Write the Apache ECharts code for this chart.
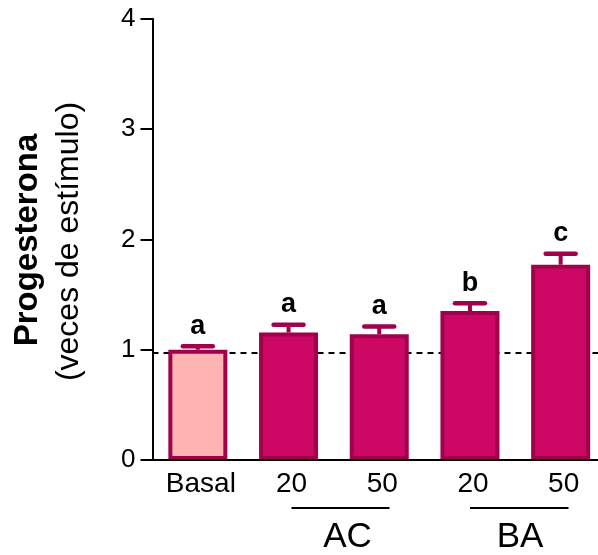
<!DOCTYPE html>
<html>
<head>
<meta charset="utf-8">
<script src="https://cdn.jsdelivr.net/npm/echarts@6/dist/echarts.min.js"></script>
<style>
  html, body { margin: 0; padding: 0; background: #ffffff; }
  #chart { width: 598px; height: 555px; }
</style>
</head>
<body>
<div id="chart"></div>
<script>
// Progesterone output, fold over basal
const categories = ['Basal', '20', '50', '20', '50'];
const means = [1.00, 1.155, 1.14, 1.35, 1.77];
const sem = [0.03, 0.07, 0.07, 0.07, 0.10];
const letters = ['a', 'a', 'a', 'b', 'c'];
const yMin = 0;
const yMax = 4;
const yStep = 1;
const referenceLevel = 0.975;
const groupNames = ['AC', 'BA'];

const FONT = "'Liberation Sans', Arial, Helvetica, sans-serif";
const FILL = '#cd0864';
const FILL_BASAL = '#ffb3b3';
const EDGE = '#a0004c';

const chart = echarts.init(document.getElementById('chart'), null, { renderer: 'canvas' });

const barData = means.map((v, i) => ({
  value: v,
  itemStyle: { color: i === 0 ? FILL_BASAL : FILL }
}));

const errData = means.map((v, i) => [i, v, v + sem[i]]);

chart.setOption({
  animation: false,
  backgroundColor: '#ffffff',
  grid: {
    left: 152.5,
    top: 18.7,
    width: 453.5,
    height: 441.3,
    containLabel: false,
    outerBoundsMode: 'none'
  },
  xAxis: {
    type: 'category',
    data: categories,
    z: 3,
    axisLine: { lineStyle: { color: '#000', width: 2 } },
    axisTick: { show: false },
    axisLabel: {
      interval: 0,
      margin: 10,
      color: '#000',
      fontFamily: FONT,
      fontSize: 28,
      padding: [0, 0, 0, 6]
    },
    splitLine: { show: false }
  },
  yAxis: {
    type: 'value',
    min: yMin,
    max: yMax,
    interval: yStep,
    axisLine: { show: true, lineStyle: { color: '#000', width: 2 } },
    axisTick: { show: true, length: 12, lineStyle: { color: '#000', width: 2 } },
    axisLabel: {
      margin: 17,
      color: '#000',
      fontFamily: FONT,
      fontSize: 26
    },
    splitLine: { show: false }
  },
  series: [
    {
      type: 'bar',
      data: barData,
      barWidth: 59,
      z: 2,
      itemStyle: { borderColor: EDGE, borderWidth: 4 },
      markLine: {
        silent: true,
        z: 1,
        symbol: ['none', 'none'],
        label: { show: false },
        lineStyle: { color: '#000', width: 2, type: [6, 5] },
        data: [{ yAxis: referenceLevel }]
      }
    },
    {
      type: 'custom',
      z: 4,
      data: errData,
      renderItem(params, api) {
        const i = params.dataIndex;
        const x = api.coord([api.value(0), 0])[0];
        const yTop = api.coord([api.value(0), api.value(1)])[1];
        const yHi = api.coord([api.value(0), api.value(2)])[1];
        return {
          type: 'group',
          children: [
            {
              type: 'line',
              shape: { x1: x, y1: yTop, x2: x, y2: yHi },
              style: { stroke: EDGE, lineWidth: 4 }
            },
            {
              type: 'line',
              shape: { x1: x - 15, y1: yHi, x2: x + 15, y2: yHi },
              style: { stroke: EDGE, lineWidth: 4.5, lineCap: 'round' }
            },
            {
              type: 'text',
              style: {
                text: letters[i],
                x: x,
                y: yHi - 20,
                align: 'center',
                verticalAlign: 'middle',
                font: 'bold 27px ' + FONT,
                fill: '#000'
              }
            }
          ]
        };
      }
    }
  ],
  graphic: [
    {
      type: 'text',
      x: 28,
      y: 240,
      rotation: Math.PI / 2,
      style: {
        text: 'Progesterona',
        font: 'bold 33px ' + FONT,
        fill: '#000',
        align: 'center',
        verticalAlign: 'middle'
      }
    },
    {
      type: 'text',
      x: 69,
      y: 241.5,
      rotation: Math.PI / 2,
      style: {
        text: '(veces de estímulo)',
        font: '32px ' + FONT,
        fill: '#000',
        align: 'center',
        verticalAlign: 'middle'
      }
    },
    {
      type: 'line',
      shape: { x1: 291.5, y1: 508, x2: 389.5, y2: 508 },
      style: { stroke: '#000', lineWidth: 2 }
    },
    {
      type: 'line',
      shape: { x1: 470, y1: 508, x2: 568.5, y2: 508 },
      style: { stroke: '#000', lineWidth: 2 }
    },
    {
      type: 'text',
      x: 347.5,
      y: 537,
      style: {
        text: groupNames[0],
        font: '35px ' + FONT,
        fill: '#000',
        align: 'center',
        verticalAlign: 'middle'
      }
    },
    {
      type: 'text',
      x: 520,
      y: 537,
      style: {
        text: groupNames[1],
        font: '35px ' + FONT,
        fill: '#000',
        align: 'center',
        verticalAlign: 'middle'
      }
    }
  ]
});
</script>
</body>
</html>
